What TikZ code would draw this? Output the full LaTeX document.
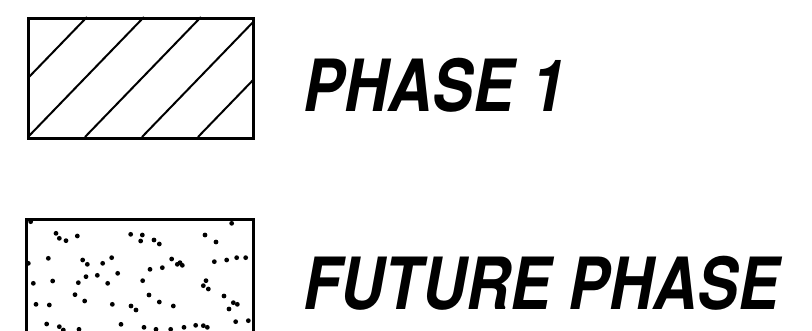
\documentclass[tikz,border=0pt]{standalone}
\usepackage{fontspec}
\usepackage{graphicx}
\newfontfamily\herosfont{TeX Gyre Heros}
\tikzset{
  legendbox/.style={draw=black, line width=3pt},
  hatchline/.style={line width=2pt},
  speck/.style={fill=black},
  legendlabel/.style={anchor=base west, inner sep=0pt, font=\herosfont\bfseries\itshape\fontsize{72}{72}\selectfont}
}
\begin{document}
\begin{tikzpicture}[x=1pt, y=-1pt]
\useasboundingbox (0,0) rectangle (812,331);
\clip (0,0) rectangle (812,331);
% Phase 1 box with hatch
\begin{scope}
  \clip (27,17) rectangle (252,137);
  \foreach \b in {-29,28,85,142,198} {
    \draw[hatchline] (\b,137) -- ++(116,-120);
  }
\end{scope}
\node[legendbox, minimum width=225pt, minimum height=120pt, inner sep=0pt, anchor=north west] (box1) at (27,17) {};
% Future phase box with dots
\node[legendbox, minimum width=227pt, minimum height=140pt, inner sep=0pt, anchor=north west] (box2) at (25,218) {};
\foreach \u/\v in {92/155,168/190,178/205,198/212,232/198,392/193,427/195,422/213,462/210,478/222,615/195,648/216,695/160,
    85/280,145/265,248/270,262/283,308/280,335/263,353/310,258/320,292/316,235/338,323/340,428/332,450/298,487/293,515/267,532/283,540/278,547/286,643/275,680/270,710/263,737/263,
    100/340,158/333,618/332,610/347,625/357,225/374,254/393,447/375,478/396,520/408,337/403,393/408,408/420,108/403,148/405,672/378,687/417,700/398,712/403,
    140/462,178/470,190/480,237/478,363/463,432/472,468/478,512/478,552/472,587/466,610/467,622/472,707/455,745/452} {
  \fill[speck] ({\u/3},{170+\v/3}) circle[radius=2.4pt];
}
\node[legendlabel] (lbl1) at (303,112) {\scalebox{0.85}[1]{PHASE 1}};
\node[legendlabel] (lbl2) at (303,310) {\scalebox{0.85}[1]{FUTURE PHASE}};
\end{tikzpicture}
\end{document}
